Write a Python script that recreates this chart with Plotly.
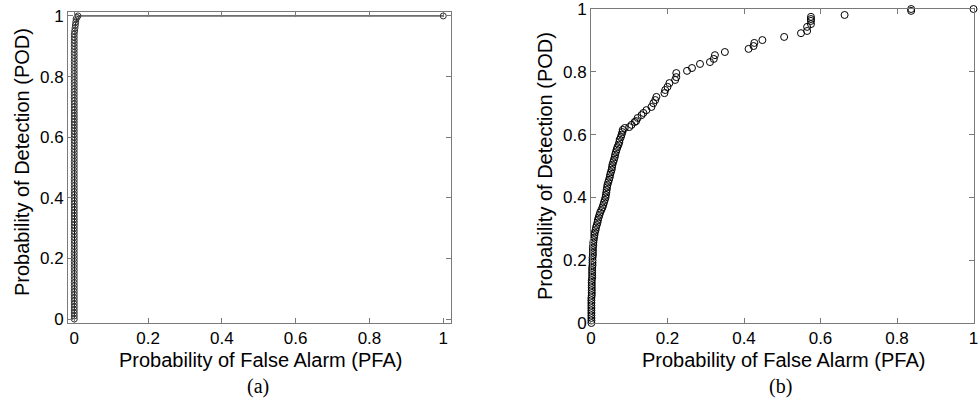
import plotly.graph_objects as go

# ---------------- data: panel (a) ----------------
POD_A = [0.00, 0.01, 0.02, 0.03, 0.04, 0.05, 0.06, 0.07, 0.08, 0.09,
         0.10, 0.11, 0.12, 0.13, 0.14, 0.15, 0.16, 0.17, 0.18, 0.19,
         0.20, 0.21, 0.22, 0.23, 0.24, 0.25, 0.26, 0.27, 0.28, 0.29,
         0.30, 0.31, 0.32, 0.33, 0.34, 0.35, 0.36, 0.37, 0.38, 0.39,
         0.40, 0.41, 0.42, 0.43, 0.44, 0.45, 0.46, 0.47, 0.48, 0.49,
         0.50, 0.51, 0.52, 0.53, 0.54, 0.55, 0.56, 0.57, 0.58, 0.59,
         0.60, 0.61, 0.62, 0.63, 0.64, 0.65, 0.66, 0.67, 0.68, 0.69,
         0.70, 0.71, 0.72, 0.73, 0.74, 0.75, 0.76, 0.77, 0.78, 0.79,
         0.80, 0.81, 0.82, 0.83, 0.84, 0.85, 0.86, 0.87, 0.88, 0.89,
         0.90, 0.91, 0.92, 0.93, 0.94, 0.95, 0.96, 0.97, 0.98, 0.99,
         0.995, 1.00, 1.00]
PFA_A = [0.0] * 95 + [0.001, 0.002, 0.003, 0.004, 0.005, 0.007, 0.010, 1.0]

# ---------------- data: panel (b) ----------------
POD_B = [0.000, 0.008, 0.016, 0.024, 0.032, 0.040, 0.048, 0.056, 0.064, 0.072,
         0.080, 0.088, 0.096, 0.104, 0.112, 0.120, 0.128, 0.136, 0.144, 0.152,
         0.160, 0.168, 0.176, 0.184, 0.192, 0.200, 0.208, 0.216, 0.224, 0.232,
         0.240, 0.248, 0.256, 0.264, 0.272, 0.280, 0.288, 0.296, 0.304, 0.312,
         0.320, 0.328, 0.336, 0.344, 0.352, 0.360, 0.368, 0.376, 0.384, 0.392,
         0.400, 0.408, 0.416, 0.424, 0.432, 0.440, 0.448, 0.456, 0.464, 0.472,
         0.480, 0.488, 0.496, 0.504, 0.512, 0.520, 0.528, 0.536, 0.544, 0.552,
         0.560, 0.568, 0.576, 0.584, 0.592, 0.600, 0.608, 0.615, 0.621, 0.624,
         0.631, 0.640, 0.643, 0.653, 0.662, 0.669, 0.678, 0.688, 0.700, 0.710,
         0.720, 0.732, 0.742, 0.752, 0.764, 0.774, 0.783, 0.796, 0.803, 0.812,
         0.825, 0.831, 0.841, 0.853, 0.863, 0.873, 0.882, 0.892, 0.901, 0.911,
         0.923, 0.930, 0.943, 0.952, 0.962, 0.968, 0.975, 0.981, 0.994, 1.000,
         1.000]
PFA_B = [0.001, 0.001, 0.001, 0.001, 0.001, 0.001, 0.001, 0.001, 0.001, 0.001,
         0.001, 0.002, 0.002, 0.002, 0.002, 0.002, 0.002, 0.002, 0.003, 0.003,
         0.003, 0.003, 0.003, 0.004, 0.004, 0.004, 0.004, 0.005, 0.005, 0.005,
         0.005, 0.006, 0.006, 0.007, 0.008, 0.009, 0.010, 0.012, 0.013, 0.015,
         0.017, 0.018, 0.020, 0.022, 0.024, 0.027, 0.030, 0.032, 0.034, 0.036,
         0.038, 0.039, 0.040, 0.041, 0.042, 0.043, 0.045, 0.047, 0.049, 0.050,
         0.052, 0.054, 0.055, 0.056, 0.058, 0.060, 0.062, 0.063, 0.065, 0.067,
         0.069, 0.072, 0.074, 0.075, 0.078, 0.080, 0.082, 0.083, 0.088, 0.100,
         0.106, 0.114, 0.118, 0.122, 0.132, 0.137, 0.145, 0.158, 0.163, 0.168,
         0.171, 0.192, 0.194, 0.200, 0.205, 0.220, 0.223, 0.223, 0.251, 0.264,
         0.285, 0.311, 0.321, 0.324, 0.350, 0.412, 0.425, 0.427, 0.448, 0.505,
         0.549, 0.565, 0.565, 0.575, 0.575, 0.575, 0.575, 0.663, 0.837, 0.837,
         1.000]

TICK_VALS = [0, 0.2, 0.4, 0.6, 0.8, 1]
TICK_TEXT = ["0", "0.2", "0.4", "0.6", "0.8", "1"]
X_TITLE = "Probability of False Alarm (PFA)"
Y_TITLE = "Probability of Detection (POD)"
CAPTIONS = ["(a)", "(b)"]

W, H = 979, 403
FONT = "Liberation Sans, Arial, sans-serif"
SERIF = "Liberation Serif, Times New Roman, serif"

fig = go.Figure()
fig.add_trace(go.Scatter(
    x=PFA_A, y=POD_A, mode="lines+markers", xaxis="x", yaxis="y",
    line=dict(color="black", width=1),
    marker=dict(symbol="circle-open", size=6, color="#333333", line=dict(width=1)),
    cliponaxis=False, showlegend=False, hoverinfo="skip"))
fig.add_trace(go.Scatter(
    x=PFA_B, y=POD_B, mode="markers", xaxis="x2", yaxis="y2",
    marker=dict(symbol="circle-open", size=7, color="black", line=dict(width=1)),
    cliponaxis=False, showlegend=False, hoverinfo="skip"))

axis_common = dict(
    showline=True, linecolor="#7a7a7a", linewidth=1, mirror="ticks",
    ticks="inside", ticklen=5, tickcolor="#7a7a7a", tickwidth=1,
    showgrid=False, zeroline=False, automargin=False,
    ticklabeloverflow="allow",
    tickvals=TICK_VALS, ticktext=TICK_TEXT,
    tickfont=dict(family=FONT, size=17, color="black"),
)

fig.update_layout(
    template="none",
    width=W, height=H, margin=dict(l=0, r=0, t=0, b=0, pad=0),
    paper_bgcolor="white", plot_bgcolor="white",
    xaxis=dict(axis_common, domain=[68 / W, 451 / W], range=[-0.017, 1.021], anchor="y"),
    yaxis=dict(axis_common, domain=[1 - 323 / H, 1 - 12 / H], range=[-0.013, 1.013], anchor="x"),
    xaxis2=dict(axis_common, domain=[591 / W, 973.5 / W], range=[0, 1], anchor="y2"),
    yaxis2=dict(axis_common, domain=[1 - 323 / H, 1 - 9 / H], range=[0, 1], anchor="x2"),
)
fig.update_xaxes(ticklabelstandoff=0)

def ann(text, xp, yp, size, family, angle=0):
    fig.add_annotation(text=text, x=xp / W, y=1 - yp / H, xref="paper", yref="paper",
                       showarrow=False, textangle=angle, xanchor="center", yanchor="middle",
                       font=dict(family=family, size=size, color="black"))

ann(Y_TITLE, 22, 162, 20, FONT, -90)
ann(Y_TITLE, 545, 166, 20, FONT, -90)
ann(X_TITLE, 260, 360, 20, FONT)
ann(X_TITLE, 783, 360, 20, FONT)
ann(CAPTIONS[0], 258, 386, 20, SERIF)
ann(CAPTIONS[1], 780, 386, 20, SERIF)

fig.write_html(
    "out.html",
    config={"displayModeBar": False, "staticPlot": True},
    post_script="document.body.style.margin='0';document.body.style.overflow='hidden';",
)
